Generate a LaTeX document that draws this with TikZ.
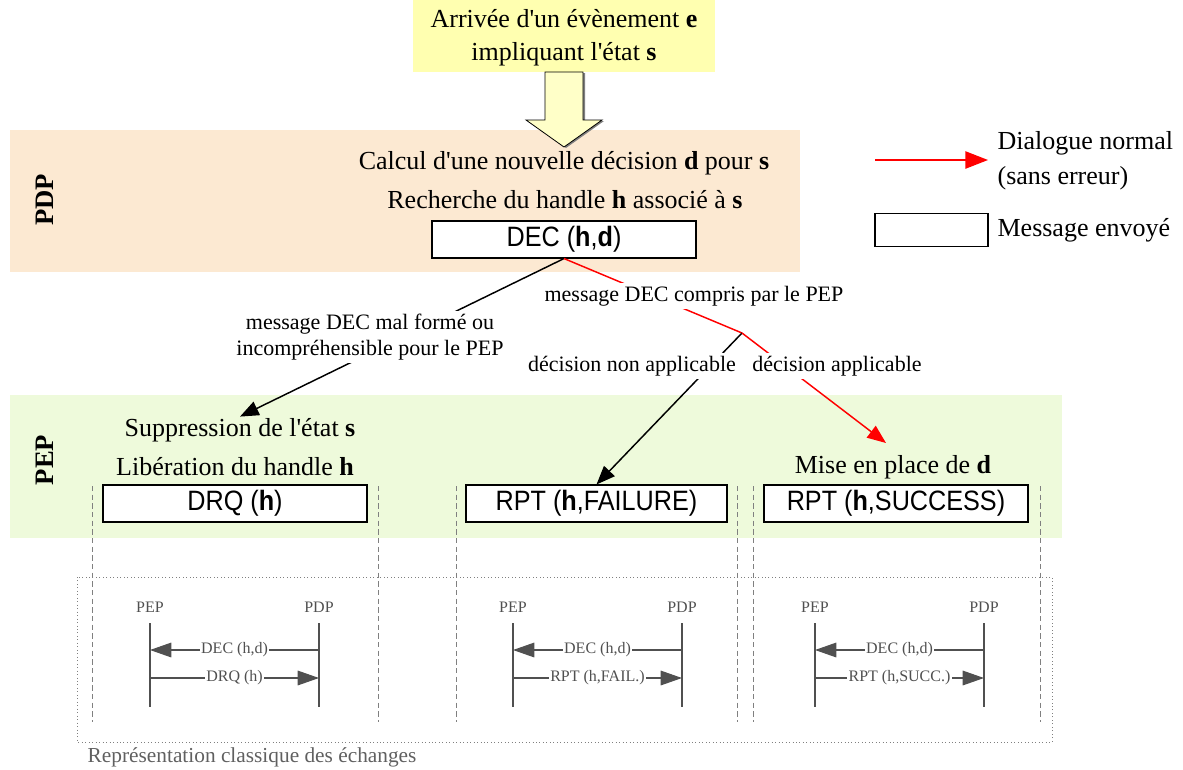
\documentclass[tikz,border=0pt]{standalone}
\usepackage{fontspec}
\setmainfont[Ligatures=TeXOff]{Liberation Serif}
\newfontfamily\boxfont[FakeStretch=0.9]{Liberation Sans}
\usetikzlibrary{arrows.meta}
\definecolor{evtyellow}{RGB}{255,255,176}
\definecolor{arrowyellow}{RGB}{255,255,200}
\definecolor{pdpband}{RGB}{252,233,210}
\definecolor{pepband}{RGB}{238,250,219}
\definecolor{seqgray}{RGB}{80,80,80}
\definecolor{guidegray}{RGB}{128,128,128}
\definecolor{captiongray}{RGB}{96,96,96}
\begin{document}
\begin{tikzpicture}[x=0.75pt,y=-0.75pt,
  bigtext/.style={font=\fontsize{19.5}{23}\selectfont, inner sep=1pt},
  midtext/.style={font=\fontsize{16.5}{20}\selectfont, fill=white, inner sep=2pt, align=center},
  bandlabel/.style={font=\bfseries\fontsize{20}{24}\selectfont, rotate=90},
  msgbox/.style={draw=black, fill=white, line width=0.8pt, inner sep=0pt,
    minimum height=27.75pt, font=\boxfont\fontsize{21}{25}\selectfont},
  flow/.style={line width=1.1pt, -{Triangle[length=14pt,width=11pt]}},
  okflow/.style={flow, draw=red, color=red},
  koflow/.style={flow, draw=black},
  guide/.style={guidegray, line width=0.5pt, dash pattern=on 4pt off 2.5pt},
  life/.style={seqgray, line width=1.5pt},
  seqmsg/.style={seqgray, line width=0.8pt, -{Triangle[length=16pt,width=11pt]}},
  seqlabel/.style={font=\fontsize{12}{14}\selectfont, text=seqgray, fill=white, inner sep=1pt},
  seqhead/.style={font=\fontsize{12}{14}\selectfont, text=seqgray}]
\useasboundingbox (0,0) rectangle (1183,769);

% incoming event
\fill[evtyellow] (413,0) rectangle (715,72);
\node[bigtext, align=center] (evt) at (564,38)
  {Arrivée d'un évènement \textbf{e}\\[2pt] impliquant l'état \textbf{s}};

% background bands
\fill[pdpband] (10,130) rectangle (800,272);
\fill[pepband] (10,395) rectangle (1062,538);
\node[bandlabel] (pdp) at (45,200) {PDP};
\node[bandlabel] (pep) at (45,460) {PEP};

% big block arrow into the PDP
\fill[gray] (547,73) -- (547,121) -- (529,121) -- (566,148) -- (604,121) -- (585,121) -- (585,73) -- cycle;
\filldraw[fill=arrowyellow, draw=black, line width=0.6pt]
  (545,72) -- (545,120) -- (526,120) -- (564,147) -- (602,120) -- (583,120) -- (583,72) -- cycle;

% PDP side
\node[bigtext] (calc) at (564,163) {Calcul d'une nouvelle décision \textbf{d} pour \textbf{s}};
\node[bigtext] (rech) at (565,200) {Recherche du handle \textbf{h} associé à \textbf{s}};
\node[msgbox, minimum width=198pt] (dec) at (564,239.5) {DEC (\textbf{h},\textbf{d})};

% legend
\coordinate (lgA) at (875,160);
\coordinate (lgB) at (988,160);
\draw[okflow, -{Triangle[length=17pt,width=13pt]}] (lgA) -- (lgB);
\node[bigtext, anchor=west, align=left] (lgtxt) at (996,161) {Dialogue normal\\[3pt](sans erreur)};
\node[msgbox, minimum width=84.75pt, minimum height=24.75pt] (lgbox) at (931.5,230) {};
\node[bigtext, anchor=west] (lgmsg) at (996,230) {Message envoyé};

% PEP side texts and messages
\node[bigtext] (supp) at (240,430) {Suppression de l'état \textbf{s}};
\node[bigtext] (lib) at (235,467) {Libération du handle \textbf{h}};
\node[bigtext] (mise) at (893,467) {Mise en place de \textbf{d}};
\node[msgbox, minimum width=198pt] (drq) at (235,503.5) {DRQ (\textbf{h})};
\node[msgbox, minimum width=195.75pt] (fail) at (596.5,503.5) {RPT (\textbf{h},FAILURE)};
\node[msgbox, minimum width=198pt] (succ) at (896,503.5) {RPT (\textbf{h},SUCCESS)};

% decision tree
\coordinate (j) at (742,333);
\coordinate (okend) at (886,443);
\draw[koflow] (dec.south) -- (supp.north);
\draw[red, line width=1.1pt] (dec.south) -- (j);
\draw[koflow] (j) -- (fail.north);
\draw[okflow] (j) -- (okend);
\node[midtext] (lbad) at (370,337) {message DEC mal formé ou\\incompréhensible pour le PEP};
\node[midtext] (lok) at (694,296) {message DEC compris par le PEP};
\node[midtext] (lnon) at (632,366) {décision non applicable};
\node[midtext] (lapp) at (837,366) {décision applicable};

% column guides
\foreach \gx in {92,378,456,737,753,1040}
  \draw[guide] (\gx,486) -- (\gx,722);

% classic exchange representation
\draw[guidegray, line width=0.6pt, dotted] (77,577) rectangle (1052,742);
\node[font=\fontsize{16}{19}\selectfont, text=captiongray, anchor=west] (classic) at (83,757)
  {Représentation classique des échanges};

\foreach \px/\rep/\nm in {150/DRQ (h)/a, 513/RPT (h{,}FAIL.)/b, 815/RPT (h{,}SUCC.)/c}{
  \pgfmathsetmacro{\qx}{\px+169}
  \node[seqhead] (pep\nm) at (\px,607) {PEP};
  \node[seqhead] (pdp\nm) at (\qx,607) {PDP};
  \coordinate (pepTop\nm) at (\px,623);
  \coordinate (pepBot\nm) at (\px,707);
  \coordinate (pdpTop\nm) at (\qx,623);
  \coordinate (pdpBot\nm) at (\qx,707);
  \draw[life] (pepTop\nm) -- (pepBot\nm);
  \draw[life] (pdpTop\nm) -- (pdpBot\nm);
  \coordinate (pdpDec\nm) at (\qx,650);
  \coordinate (pepDec\nm) at (\px,650);
  \coordinate (pepRep\nm) at (\px,678);
  \coordinate (pdpRep\nm) at (\qx,678);
  \draw[seqmsg] (pdpDec\nm) -- node[seqlabel] {DEC (h,d)} (pepDec\nm);
  \draw[seqmsg] (pepRep\nm) -- node[seqlabel] {\rep} (pdpRep\nm);
}
\end{tikzpicture}
\end{document}
